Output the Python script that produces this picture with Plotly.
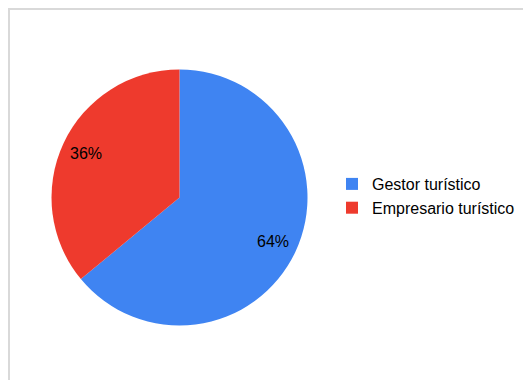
import math
import plotly.graph_objects as go

categories = ["Gestor turístico", "Empresario turístico"]
values = [64, 36]
colors = ["#3f84f2", "#ee3a2d"]

W, H = 531, 380
# pie centre and radius in figure pixels
cx, cy, r = 171.5, 189.5, 128
label_r = 0.81

fig = go.Figure(go.Pie(
    labels=categories,
    values=values,
    sort=False,
    direction="clockwise",
    rotation=0,
    marker=dict(colors=colors, line=dict(width=0)),
    textinfo="none",
    domain=dict(x=[(cx - r) / W, (cx + r) / W], y=[(H - cy - r) / H, (H - cy + r) / H]),
    hoverinfo="label+percent",
))

# percent labels placed along each slice's mid-angle (derived from values)
total = sum(values)
annotations = []
cum = 0
for v in values:
    mid = (cum + v / 2) / total * 2 * math.pi
    cum += v
    px = cx + label_r * r * math.sin(mid)
    py = cy - label_r * r * math.cos(mid)
    annotations.append(dict(
        x=px / W, y=1 - py / H, xref="paper", yref="paper",
        text=f"{round(v / total * 100)}%", showarrow=False,
        font=dict(family="Liberation Sans, Arial, sans-serif", size=16, color="#000000"),
        xanchor="center", yanchor="middle",
    ))

fig.update_layout(
    width=W, height=H,
    margin=dict(l=0, r=0, t=0, b=0),
    paper_bgcolor="#ffffff",
    plot_bgcolor="#ffffff",
    showlegend=True,
    legend=dict(
        x=324 / W, y=(H - 159) / H, xanchor="left", yanchor="top",
        font=dict(family="Liberation Sans, Arial, sans-serif", size=16, color="#000000"),
        itemwidth=30,
        bgcolor="rgba(0,0,0,0)",
    ),
    annotations=annotations,
    shapes=[
        dict(type="rect", xref="paper", yref="paper",
             x0=1 / W, x1=1.2, y0=-0.2, y1=1 - 1 / H,
             line=dict(color="#d9d9d9", width=2), fillcolor="rgba(0,0,0,0)", layer="below"),
    ],
)

fig.write_html("out.html")
